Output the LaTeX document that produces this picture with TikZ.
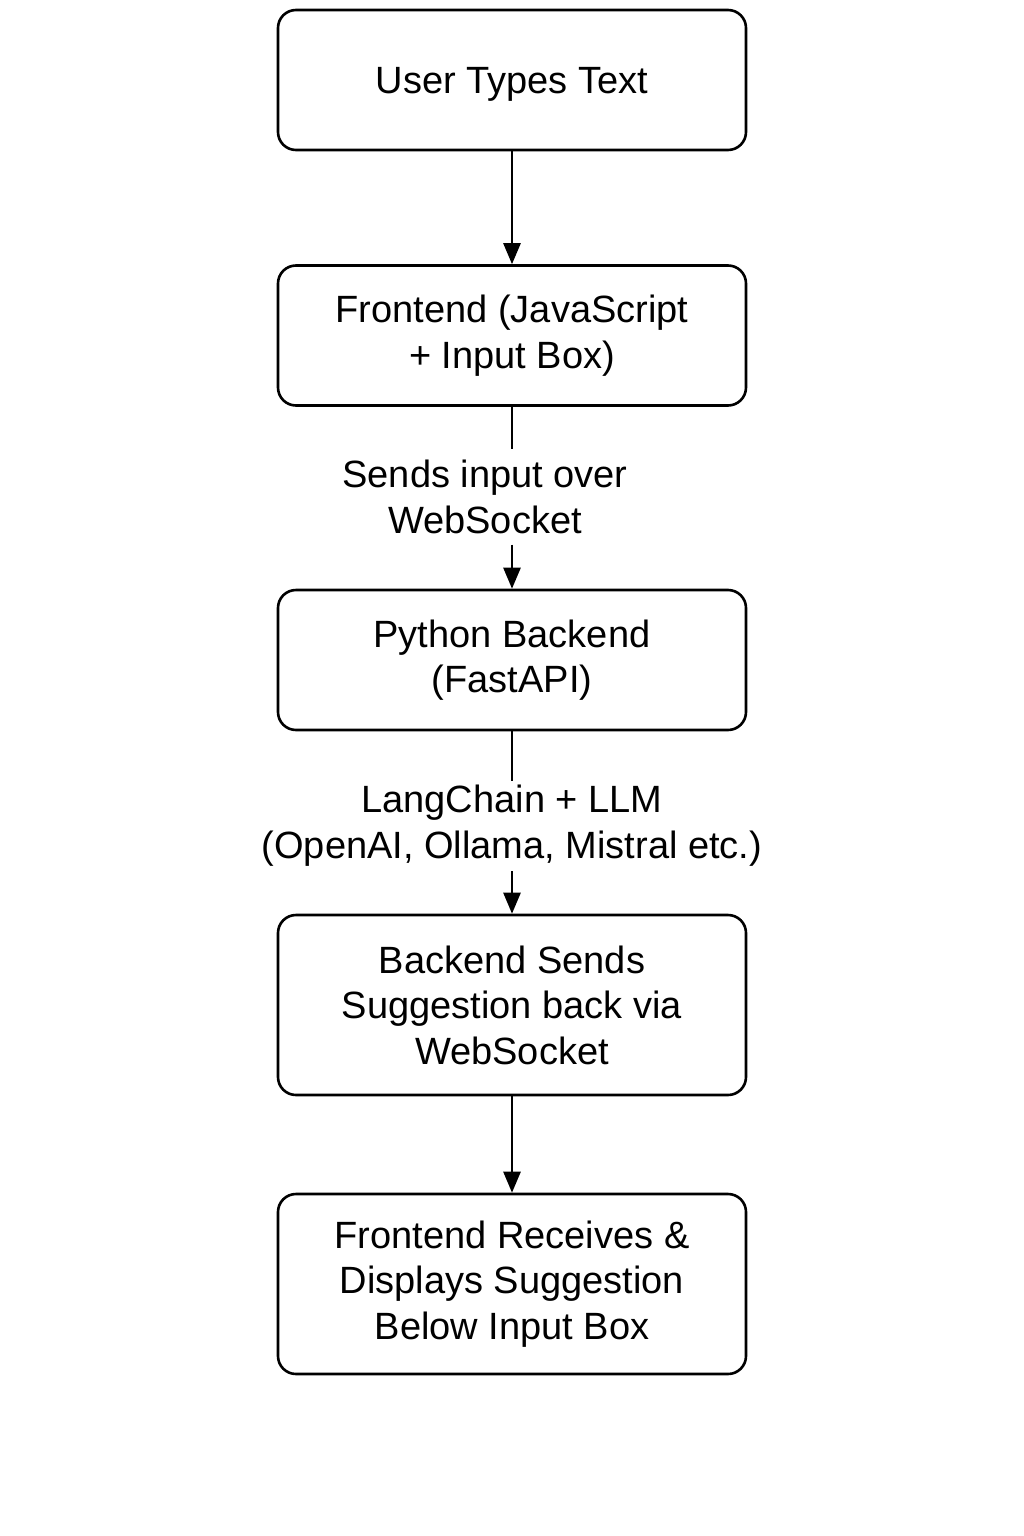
\documentclass[tikz,border=0pt]{standalone}
\usepackage{fontspec}
\setmainfont{Liberation Sans}
\usetikzlibrary{arrows.meta}
\begin{document}
\begin{tikzpicture}[x=1pt,y=-1pt,
  box/.style={draw, line width=2.6pt, rounded corners=18pt, minimum width=468pt, inner sep=0pt, align=center, font=\fontsize{38}{45.5}\selectfont},
  lbl/.style={inner sep=0pt, align=center, font=\fontsize{38}{46}\selectfont},
  conn/.style={line width=2.6pt},
  arr/.style={line width=2.6pt, -{Triangle[length=21pt,width=17pt]}}]
\useasboundingbox (0,0) rectangle (1024,1536);
\node[box, minimum height=140pt] (b1) at (512,80) {\raisebox{-4pt}[\height][\depth]{User Types Text}};
\node[box, minimum height=140pt] (b2) at (512,335.5) {Frontend (JavaScript\\+ Input Box)};
\node[box, minimum height=140pt] (b3) at (512,660) {Python Backend\\(FastAPI)};
\node[box, minimum height=180pt] (b4) at (512,1005) {Backend Sends\\Suggestion back via\\WebSocket};
\node[box, minimum height=180pt] (b5) at (512,1284) {Frontend Receives \&\\Displays Suggestion\\Below Input Box};
\node[lbl, minimum height=95pt] (l1) at (485,497) {Sends input over\\WebSocket};
\node[lbl, minimum height=90pt] (l2) at (512,826) {LangChain + LLM\\(OpenAI, Ollama, Mistral etc.)};
\draw[arr] (b1) -- (b2);
\draw[conn] (b2.south) -- (b2.south |- l1.north);
\draw[arr] (b3.north |- l1.south) -- (b3.north);
\draw[conn] (b3.south) -- (l2.north);
\draw[arr] (l2.south) -- (b4.north);
\draw[arr] (b4) -- (b5);
\end{tikzpicture}
\end{document}
